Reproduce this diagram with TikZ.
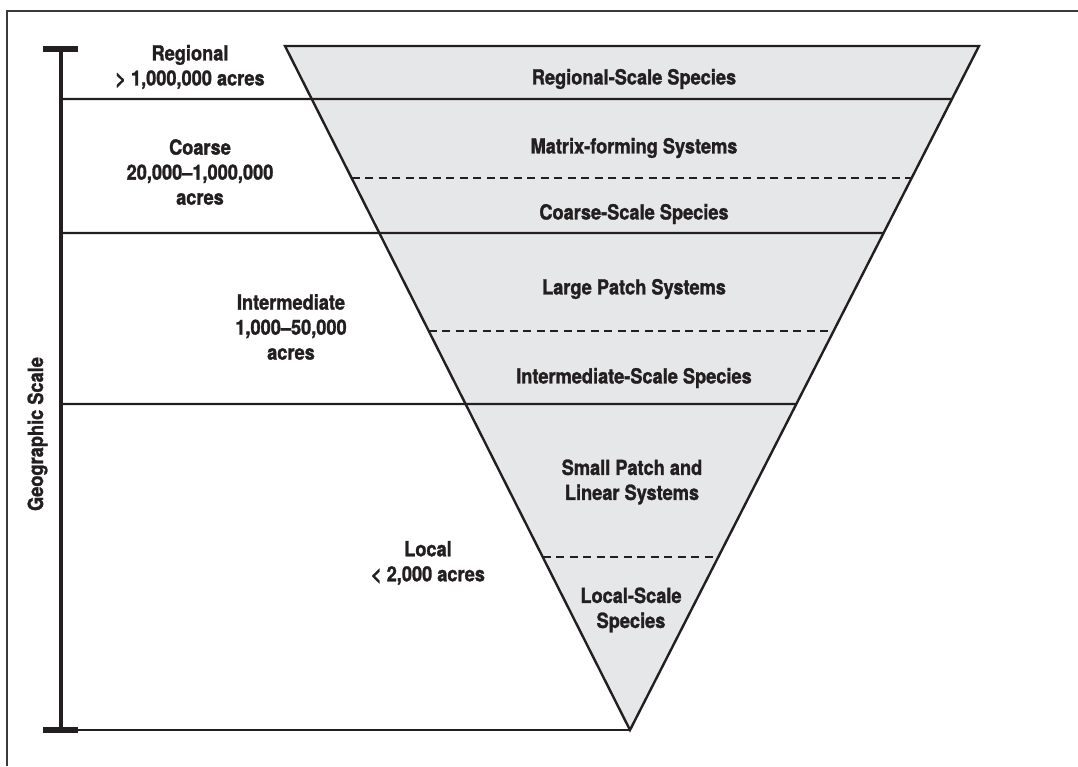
\documentclass[tikz,border=0pt]{standalone}
\usepackage{fontspec}
\setmainfont{TeX Gyre Heros}[FakeStretch=0.875, BoldFeatures={FakeBold=1.4}]
\usetikzlibrary{calc}
\definecolor{ink}{HTML}{231F20}
\definecolor{fillgray}{HTML}{E6E7E8}
\definecolor{framegray}{HTML}{3A3A3A}
\begin{document}
\begin{tikzpicture}[x=1pt,y=-1pt,
  lbl/.style={font=\fontsize{20.8}{25}\selectfont\bfseries, text=ink, align=center, inner sep=0pt},
  rule/.style={draw=ink, line width=2.2pt},
  dashrule/.style={draw=ink, line width=2.2pt, dash pattern=on 8pt off 5.5pt},
  edge/.style={draw=ink, line width=2.4pt, line join=miter},
  framerule/.style={draw=framegray, line width=1.3pt}]
\useasboundingbox (0,0) rectangle (1078,766);
% frame (top and left only)
\coordinate (F0) at (1078,11);
\coordinate (F1) at (7,11);
\coordinate (F2) at (7,766);
\draw[framerule] (F0) -- (F1) -- (F2);
% triangle
\coordinate (TL) at (285,46);
\coordinate (TR) at (979,46);
\coordinate (Tip) at (630,730);
\fill[fillgray] (TL) -- (TR) -- (Tip) -- cycle;
% points on triangle edges
\coordinate (R1) at ($(TR)!0.07749!(Tip)$);   % y=99
\coordinate (R2) at ($(TR)!0.27339!(Tip)$);   % y=233
\coordinate (R3) at ($(TR)!0.52339!(Tip)$);   % y=404
\coordinate (DL1) at ($(TL)!0.19298!(Tip)$);  % y=178
\coordinate (DR1) at ($(TR)!0.19298!(Tip)$);
\coordinate (DL2) at ($(TL)!0.41667!(Tip)$);  % y=331
\coordinate (DR2) at ($(TR)!0.41667!(Tip)$);
\coordinate (DL3) at ($(TL)!0.74708!(Tip)$);  % y=557
\coordinate (DR3) at ($(TR)!0.74708!(Tip)$);
% scale bar
\coordinate (BT) at (61,49);
\coordinate (BB) at (61,730);
\coordinate (B1) at (61,99);
\coordinate (B2) at (61,233);
\coordinate (B3) at (61,404);
\draw[draw=ink, line width=4pt] (BT) -- (BB);
\fill[ink] (43,46) rectangle (78,52);
\fill[ink] (43,727) rectangle (78,733);
% horizontal rules
\draw[rule] (B1) -- (R1);
\draw[rule] (B2) -- (R2);
\draw[rule] (B3) -- (R3);
\draw[rule] (BB) -- (Tip);
% dashed rules
\draw[dashrule] (DL1) -- (DR1);
\draw[dashrule] (DL2) -- (DR2);
\draw[dashrule] (DL3) -- (DR3);
% triangle outline
\draw[edge] (TL) -- (TR) -- (Tip) -- cycle;
% left labels
\node[lbl] (regional) at (190,67) {Regional\\> 1,000,000 acres};
\node[lbl] (coarse) at (200,172) {Coarse\\20,000–1,000,000\\acres};
\node[lbl] (intermediate) at (291,327) {Intermediate\\1,000–50,000\\acres};
\node[lbl] (local) at (428,563) {Local\\< 2,000 acres};
\node[lbl, rotate=90, anchor=base] (geo) at (43,434) {Geographic Scale};
% triangle labels
\node[lbl] (rss) at (634,79) {Regional-Scale Species};
\node[lbl] (mfs) at (634,148) {Matrix-forming Systems};
\node[lbl] (css) at (634,214) {Coarse-Scale Species};
\node[lbl] (lps) at (634,289) {Large Patch Systems};
\node[lbl] (iss) at (634,378) {Intermediate-Scale Species};
\node[lbl] (spl) at (632,482) {Small Patch and\\Linear Systems};
\node[lbl] (lss) at (631,610) {Local-Scale\\Species};
\end{tikzpicture}
\end{document}
